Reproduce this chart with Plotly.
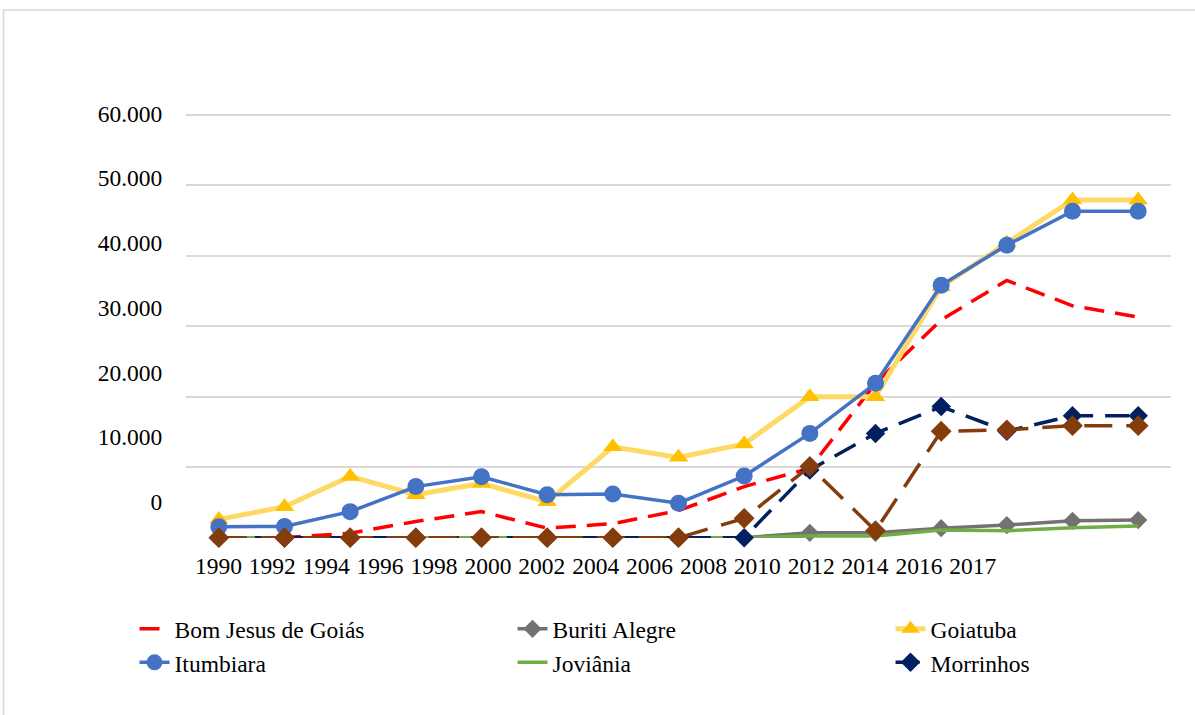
import plotly.graph_objects as go

years = ['1990', '1992', '1994', '1996', '1998', '2000', '2002', '2004',
         '2006', '2008', '2010', '2012', '2014', '2016', '2017']

bom_jesus = [0, 0, 650, 2300, 3700, 1350, 2000, 3850, 7250, 9850, 21900, 30900, 36500, 32900, 31300]
buriti = [0, 0, 0, 0, 0, 0, 0, 0, 0, 700, 700, 1350, 1800, 2400, 2500]
goiatuba = [2600, 4400, 8700, 6100, 7700, 5100, 12900, 11400, 13300, 20000, 20000, 35600, 41800, 47900, 47900]
itumbiara = [1550, 1600, 3700, 7250, 8650, 6100, 6200, 4900, 8750, 14800, 21900, 35800, 41500, 46300, 46300]
joviania = [0, 0, 0, 0, 0, 0, 0, 0, 0, 250, 250, 1100, 1000, 1400, 1650]
morrinhos = [0, 0, 0, 0, 0, 0, 0, 0, 0, 9600, 14800, 18600, 15100, 17300, 17300]
outro = [0, 0, 0, 0, 0, 0, 0, 0, 2750, 10100, 1000, 15100, 15300, 15900, 15900]

y_tickvals = [0, 10000, 20000, 30000, 40000, 50000, 60000]
y_ticktext = ['0', '10.000', '20.000', '30.000', '40.000', '50.000', '60.000']

W, H = 1195, 715
L, R = 185.5, 1170.9
T, B = 100.0, 537.7
FONT = 'Liberation Serif'
FS = 23.5


def px(xp):
    return (xp - L) / (R - L)


def py(yp):
    return (B - yp) / (B - T)


fig = go.Figure()

common = dict(x=years, mode='lines+markers', cliponaxis=False)

fig.add_trace(go.Scatter(y=bom_jesus, name='Bom Jesus de Goiás', mode='lines', x=years,
                         cliponaxis=False,
                         line=dict(color='#FF0000', width=3.5, dash='20px,11px')))
fig.add_trace(go.Scatter(y=buriti, name='Buriti Alegre', **common,
                         line=dict(color='#767171', width=3.5),
                         marker=dict(symbol='diamond', size=14, color='#767171')))
fig.add_trace(go.Scatter(y=goiatuba, name='Goiatuba', **common,
                         line=dict(color='#FFD966', width=5),
                         marker=dict(symbol='triangle-up', size=17, color='#FFC000')))
fig.add_trace(go.Scatter(y=itumbiara, name='Itumbiara', **common,
                         line=dict(color='#4472C4', width=3.5),
                         marker=dict(symbol='circle', size=17, color='#4472C4')))
fig.add_trace(go.Scatter(y=joviania, name='Joviânia', mode='lines', x=years,
                         cliponaxis=False,
                         line=dict(color='#70AD47', width=3.5)))
fig.add_trace(go.Scatter(y=morrinhos, name='Morrinhos', **common,
                         line=dict(color='#002060', width=3.5, dash='24px,12px'),
                         marker=dict(symbol='diamond', size=15, color='#002060')))
fig.add_trace(go.Scatter(y=outro, name='Outro', showlegend=False, **common,
                         line=dict(color='#843C0C', width=3.5, dash='28px,14px'),
                         marker=dict(symbol='diamond', size=16, color='#843C0C')))

# helper trace for the label axes
fig.add_trace(go.Scatter(x=[None], y=[None], xaxis='x2', yaxis='y2',
                         showlegend=False, hoverinfo='skip'))

# label axis ranges (labels are spaced differently from the grid)
lab_y_step = 64.7 / 10000.0
lab_y0 = 501.7
y2_range = [-(B - lab_y0) / lab_y_step, (lab_y0 - T) / lab_y_step]
lab_x_step = 53.9
lab_x0 = 218.0
x2_range = [-(lab_x0 - L) / lab_x_step, (R - lab_x0) / lab_x_step]

fig.update_layout(
    width=W, height=H,
    margin=dict(l=L, r=W - R, t=T, b=H - B, pad=0, autoexpand=False),
    paper_bgcolor='white', plot_bgcolor='white',
    font=dict(family=FONT, size=FS, color='black'),
    xaxis=dict(type='category', range=[-0.5, 14.5], showgrid=False,
               showticklabels=False, showline=False, zeroline=False, ticks='',
               automargin=False),
    yaxis=dict(range=[-40, (B - T) / 70.45 * 10000 - 40], tickvals=y_tickvals,
               showticklabels=False, showgrid=True, gridcolor='#D9D9D9',
               gridwidth=1.8, zeroline=False, showline=False, ticks='',
               automargin=False),
    xaxis2=dict(overlaying='x', anchor='y2', side='bottom', range=x2_range,
                tickmode='array', tickvals=list(range(len(years))), ticktext=years,
                showgrid=False, zeroline=False, showline=False, automargin=False,
                ticks='outside', ticklen=7, tickcolor='rgba(0,0,0,0)',
                tickfont=dict(family=FONT, size=FS, color='black')),
    yaxis2=dict(overlaying='y', anchor='x2', side='left', range=y2_range,
                tickmode='array', tickvals=y_tickvals, ticktext=y_ticktext,
                showgrid=False, zeroline=False, showline=False, automargin=False,
                ticks='outside', ticklen=18, tickcolor='rgba(0,0,0,0)',
                tickfont=dict(family=FONT, size=FS, color='black')),
    legend=dict(orientation='h', xref='paper', yref='paper',
                x=px(134), y=py(606.7), xanchor='left', yanchor='top',
                entrywidth=333, entrywidthmode='pixels',
                font=dict(family=FONT, size=FS, color='black'),
                bgcolor='rgba(0,0,0,0)', traceorder='normal'),
    showlegend=True,
    shapes=[dict(type='rect', xref='paper', yref='paper',
                 x0=px(3), x1=px(1205), y0=py(725), y1=py(10),
                 line=dict(color='#D9D9D9', width=1.5), fillcolor='rgba(0,0,0,0)',
                 layer='below')],
)

fig.write_html('out.html', config={'displayModeBar': False},
               post_script="document.body.style.margin='0px';document.body.style.padding='0px';")
